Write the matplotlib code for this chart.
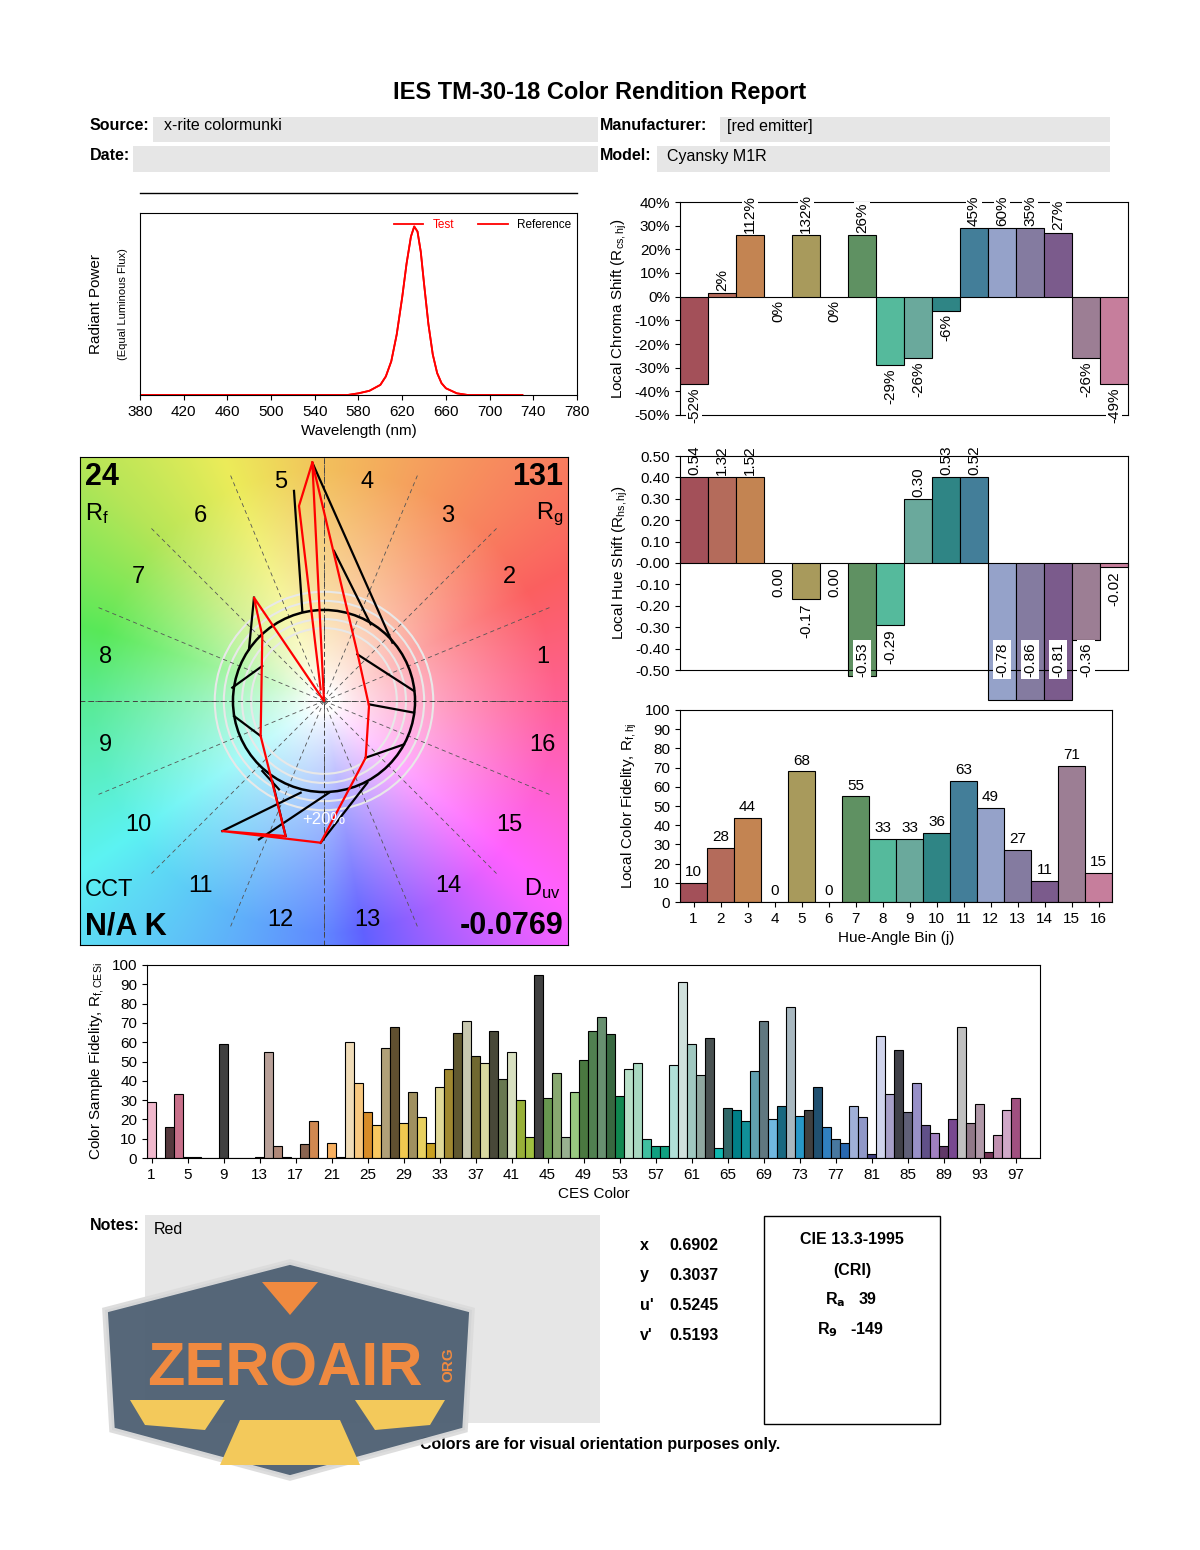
import numpy as np
import matplotlib
matplotlib.use("Agg")
import matplotlib.pyplot as plt
from matplotlib.patches import Rectangle, Circle, Polygon
from matplotlib.colors import hsv_to_rgb

plt.rcParams['font.family'] = ['Liberation Sans', 'DejaVu Sans']
plt.rcParams['mathtext.fontset'] = 'custom'
plt.rcParams['mathtext.rm'] = 'Liberation Sans'
plt.rcParams['mathtext.it'] = 'Liberation Sans'

# ---------------- data ----------------
wl = [380, 500, 570, 580, 590, 600, 605, 610, 615, 620, 624, 628, 631, 634, 637, 640, 644, 648, 652, 656, 660, 670, 680, 730]
spd = [0, 0, 0, 0.01, 0.025, 0.06, 0.11, 0.2, 0.36, 0.58, 0.78, 0.94, 1.0, 0.97, 0.85, 0.66, 0.42, 0.24, 0.13, 0.07, 0.04, 0.01, 0, 0]

bins = np.arange(1, 17)
bin_colors = ['#a35059', '#b46b5b', '#c38452', '#b8a05b', '#a89a5c', '#8a9355', '#5f9162', '#55ba9c',
              '#6aa99c', '#2f8585', '#437e99', '#95a2c9', '#847ba0', '#7b5b8c', '#9c7e94', '#c67e9c']
chroma_val = [-52, 2, 112, 0, 132, 0, 26, -29, -26, -6, 45, 60, 35, 27, -26, -49]
chroma_bar = [-37, 1.5, 26, 0, 26, 0, 26, -29, -26, -6, 29, 29, 29, 27, -26, -37]
hue_val = [0.54, 1.32, 1.52, 0.00, -0.17, 0.00, -0.53, -0.29, 0.30, 0.53, 0.52, -0.78, -0.86, -0.81, -0.36, -0.02]
hue_bar = [0.40, 0.40, 0.40, 0.00, -0.17, 0.00, -0.53, -0.29, 0.30, 0.40, 0.40, -0.64, -0.64, -0.64, -0.36, -0.02]
fid_val = [10, 28, 44, 0, 68, 0, 55, 33, 33, 36, 63, 49, 27, 11, 71, 15]

ces_val = [29, 0, 16, 33, 0.5, 0.5, 0, 0, 59, 0, 0, 0, 0.5, 55, 6, 0.5, 0, 7, 19, 0,
           8, 0.5, 60, 39, 24, 17, 57, 68, 18, 34, 21, 8, 37, 46, 65, 71, 53, 49, 66, 41,
           55, 30, 11, 95, 31, 44, 11, 34, 51, 66, 73, 64, 32, 46, 49, 10, 6, 6, 48, 91,
           59, 43, 62, 5, 26, 25, 19, 45, 71, 20, 27, 78, 22, 25, 37, 16, 10, 8, 27, 21,
           2, 63, 33, 56, 24, 39, 17, 13, 6, 20, 68, 18, 28, 3, 12, 25, 31, 0, 0]
ces_colors = ['#f0b8cc', '#d9a0b0', '#55383d', '#c8708a', '#6a4040', '#5a3a35', '#8a5a50', '#b08070', '#404040', '#a07060',
              '#c09080', '#804030', '#603020', '#b8a098', '#b08878', '#503020', '#d09070', '#8a6450', '#d08850', '#a06030',
              '#f8b060', '#704020', '#f0dcb8', '#f8c880', '#d88c28', '#f8c860', '#b0a078', '#605030', '#f0c850', '#a09060',
              '#e8d060', '#c8a020', '#e0d898', '#a08830', '#605830', '#c8c8b0', '#706830', '#d8d8a0', '#484838', '#687850',
              '#d8e0c0', '#98b038', '#a0c040', '#404040', '#689850', '#88a870', '#98b090', '#98c880', '#4a7840', '#508050',
              '#689070', '#386840', '#108850', '#b8e0c8', '#a8d8c0', '#40c0a0', '#10a080', '#10a080', '#b0e0d8', '#d0e0dc',
              '#a0c8c0', '#90a8a0', '#485050', '#10b8b0', '#306868', '#008088', '#109098', '#60a0b0', '#607880', '#70b8e0',
              '#186880', '#a8b8c0', '#2898c8', '#404040', '#205070', '#3080c0', '#4878a0', '#2868b0', '#a0b0d8', '#9098c8',
              '#404080', '#d0d4ec', '#a8a0c8', '#404048', '#606078', '#9890c8', '#605088', '#a080c0', '#603868', '#784890',
              '#c0c0c0', '#907888', '#b098a8', '#703050', '#c090b0', '#d0a8c8', '#a05080', '#c080a0', '#a06080']

# vector graphic points, read in pixel units of a 3x crop (centre 735,735)
test_px = [(700, 20), (835, 590), (870, 750), (860, 905), (725, 1160), (430, 1125), (620, 1140),
           (545, 840), (550, 540), (525, 425), (735, 735), (700, 20), (660, 150), (725, 700)]
ref_seg_px = [((645, 105), (670, 465)), ((700, 20), (940, 560)), ((765, 285), (875, 505)),
              ((835, 595), (1005, 705)), ((870, 745), (1005, 770)), ((860, 905), (975, 865)),
              ((865, 980), (725, 1160)), ((430, 1125), (665, 1010)), ((540, 1150), (750, 1010)),
              ((620, 1140), (580, 975)), ((550, 945), (600, 1000)), ((545, 840), (465, 780)),
              ((550, 630), (460, 695)), ((510, 580), (525, 425))]

W, H = 1200, 1550
fig = plt.figure(figsize=(12, 15.5), dpi=100)


def ax_px(l, t, r, b):
    return fig.add_axes([l / W, 1 - b / H, (r - l) / W, (b - t) / H])


def to_unit(p):
    return ((p[0] - 735) / 273.0, -(p[1] - 735) / 273.0)


# overlay for header/boxes
ov = fig.add_axes([0, 0, 1, 1])
ov.set_xlim(0, W)
ov.set_ylim(H, 0)
ov.axis('off')
ov.text(600, 92, 'IES TM-30-18 Color Rendition Report', ha='center', va='center', fontsize=17, fontweight='bold')
gray = '#e6e6e6'
for (x0, y0, x1, y1) in [(153, 117, 598, 142), (720, 117, 1110, 142), (133, 146, 598, 172), (657, 146, 1110, 172),
                         (145, 1215, 600, 1423)]:
    ov.add_patch(Rectangle((x0, y0), x1 - x0, y1 - y0, color=gray, lw=0))
for (x, y, s) in [(90, 126, 'Source:'), (600, 126, 'Manufacturer:'), (90, 156, 'Date:'), (600, 156, 'Model:'),
                  (90, 1225, 'Notes:')]:
    ov.text(x, y, s, fontsize=11.5, fontweight='bold', va='center')
for (x, y, s) in [(164, 126, 'x-rite colormunki'), (727, 126, '[red emitter]'), (667, 156, 'Cyansky M1R'),
                  (154, 1230, 'Red')]:
    ov.text(x, y, s, fontsize=11.5, va='center')
ov.plot([140, 577], [193, 193], color='black', lw=1)
for i, (k, v) in enumerate([('x', '0.6902'), ('y', '0.3037'), ("u'", '0.5245'), ("v'", '0.5193')]):
    ov.text(640, 1245 + 30 * i, k, fontsize=11.5, fontweight='bold', va='center')
    ov.text(669, 1245 + 30 * i, v, fontsize=11.5, fontweight='bold', va='center')
ov.add_patch(Rectangle((764, 1216), 176, 208, fill=False, ec='black', lw=1))
ov.text(852, 1240, 'CIE 13.3-1995', ha='center', va='center', fontsize=11.5, fontweight='bold')
ov.text(852, 1270, '(CRI)', ha='center', va='center', fontsize=11.5, fontweight='bold')
ov.text(825, 1300, r'R$_\mathbf{a}$   39', va='center', fontsize=11.5, fontweight='bold')
ov.text(817, 1330, r'R$_\mathbf{9}$   -149', va='center', fontsize=11.5, fontweight='bold')
ov.text(600, 1444, 'Colors are for visual orientation purposes only.', ha='center', va='center',
        fontsize=11.5, fontweight='bold')

# ---------------- spectrum ----------------
ax = ax_px(140, 213, 577, 395)
ax.plot(wl, spd, color='red', lw=1.3, label='Test')
ax.plot(wl, spd, color='red', lw=1.3, label='Reference')
ax.set_xlim(380, 780)
ax.set_ylim(0, 1.08)
ax.set_xticks(range(380, 781, 40))
ax.set_yticks([])
ax.tick_params(labelsize=11)
ax.set_xlabel('Wavelength (nm)', fontsize=11)
ax.set_ylabel('Radiant Power', fontsize=11)
ax.yaxis.set_label_coords(-0.085, 0.5)
ax.text(-0.04, 0.5, '(Equal Luminous Flux)', transform=ax.transAxes, rotation=90, fontsize=8,
        ha='center', va='center')
leg = ax.legend(loc='upper right', ncol=2, frameon=False, fontsize=8.5, handlelength=2.5, borderaxespad=0.1)
leg.get_texts()[0].set_color('red')

# ---------------- chroma shift ----------------
ax = ax_px(680, 202, 1128, 415)
ax.bar(bins, chroma_bar, width=1, color=bin_colors, edgecolor='black', lw=0.8)
ax.set_xlim(0.5, 16.5)
ax.set_ylim(-50, 40)
ax.set_yticks(range(-50, 41, 10))
ax.set_yticklabels(['%d%%' % v for v in range(-50, 41, 10)])
ax.set_xticks([])
ax.tick_params(labelsize=11)
ax.set_ylabel(r'Local Chroma Shift (R$_{cs,hj}$)', fontsize=11)
for b, v, h in zip(bins, chroma_val, chroma_bar):
    if v > 0:
        ax.text(b, h + 1, '%d%%' % v, rotation=90, ha='center', va='bottom', fontsize=11,
                bbox=dict(fc='white', ec='none', pad=0.5), clip_on=False)
    else:
        ax.text(b, h - 1.5, '%d%%' % v, rotation=90, ha='center', va='top', fontsize=11,
                bbox=dict(fc='white', ec='none', pad=0.5), clip_on=False)

# ---------------- hue shift ----------------
ax = ax_px(680, 456, 1128, 670)
ax.bar(bins, hue_bar, width=1, color=bin_colors, edgecolor='black', lw=0.8, clip_on=False)
ax.set_xlim(0.5, 16.5)
ax.set_ylim(-0.5, 0.5)
ax.set_yticks(np.arange(-0.5, 0.51, 0.1))
ax.set_yticklabels(['%.2f' % v for v in np.arange(-0.5, 0.51, 0.1)])
ax.set_xticks([])
ax.tick_params(labelsize=11)
ax.set_ylabel(r'Local Hue Shift (R$_{hs,hj}$)', fontsize=11)
for b, v, h in zip(bins, hue_val, hue_bar):
    if v > 0:
        ax.text(b, h + 0.01, '%.2f' % v, rotation=90, ha='center', va='bottom', fontsize=11, clip_on=False)
    else:
        ax.text(b, max(h, -0.35) - 0.02, '%.2f' % v, rotation=90, ha='center', va='top', fontsize=11,
                bbox=dict(fc='white', ec='none', pad=1.5), clip_on=False, zorder=5)

# ---------------- local fidelity ----------------
ax = ax_px(680, 710, 1112, 902)
ax.bar(bins, fid_val, width=1, color=bin_colors, edgecolor='black', lw=0.8)
ax.set_xlim(0.5, 16.5)
ax.set_ylim(0, 100)
ax.set_yticks(range(0, 101, 10))
ax.set_xticks(bins)
ax.tick_params(labelsize=11)
ax.set_xlabel('Hue-Angle Bin (j)', fontsize=11)
ax.set_ylabel(r'Local Color Fidelity, R$_{f,hj}$', fontsize=11)
for b, v in zip(bins, fid_val):
    ax.text(b, v + 2, '%d' % v, ha='center', va='bottom', fontsize=11)

# ---------------- CES fidelity ----------------
ces = np.arange(1, len(ces_val) + 1)
ax = ax_px(147, 965, 1040, 1158)
ax.bar(ces, ces_val, width=1, color=ces_colors, edgecolor='black', lw=0.8)
ax.set_xlim(0.5, 99.7)
ax.set_ylim(0, 100)
ax.set_yticks(range(0, 101, 10))
ax.set_xticks(range(1, 98, 4))
ax.tick_params(labelsize=11)
ax.set_xlabel('CES Color', fontsize=11)
ax.set_ylabel(r'Color Sample Fidelity, R$_{f,CESi}$', fontsize=11)

# ---------------- color vector graphic ----------------
ax = ax_px(80, 457, 568, 945)
L = 2.68
g = np.linspace(-L, L, 400)
X, Y = np.meshgrid(g, g)
ang = np.degrees(np.arctan2(Y, X)) % 360
hue = np.interp(ang, [0, 45, 90, 135, 180, 225, 270, 315, 360],
                [340, 372, 400, 440, 505, 550, 585, 655, 700]) % 360 / 360.0
r = np.hypot(X, Y)
sat = np.clip((r - 0.15) / 2.4, 0, 1) ** 0.7
val = np.interp(ang, [0, 90, 135, 180, 270, 360], [1, 0.95, 0.9, 0.92, 1, 1])
val = 1 - (1 - val) * np.clip(r / 2.5, 0, 1)
img = hsv_to_rgb(np.dstack([hue, sat * 0.62, val]))
ax.imshow(img, extent=[-L, L, -L, L], origin='lower', zorder=0)
for rr in [0.8, 0.9, 1.1, 1.2]:
    ax.add_patch(Circle((0, 0), rr, fill=False, ec='#e8e8e8', lw=1.5, zorder=1))
for k in range(16):
    a = np.radians(22.5 * k)
    ax.plot([0, L * 1.0 * np.cos(a)], [0, L * 1.0 * np.sin(a)], ls=(0, (5, 4)), color='#555555', lw=0.6, zorder=1)
ax.plot([-L, L], [0, 0], ls=(0, (5, 4)), color='#444444', lw=0.7, zorder=1)
ax.plot([0, 0], [-L, L], ls=(0, (5, 4)), color='#444444', lw=0.7, zorder=1)
ax.add_patch(Circle((0, 0), 1.0, fill=False, ec='black', lw=1.8, zorder=2))
for a, b in ref_seg_px:
    p, q = to_unit(a), to_unit(b)
    ax.plot([p[0], q[0]], [p[1], q[1]], color='black', lw=1.6, zorder=3)
tp = np.array([to_unit(p) for p in test_px])
ax.plot(tp[:, 0], tp[:, 1], color='red', lw=1.6, zorder=4)
ax.text(0, -1.3, '+20%', color='white', ha='center', va='center', fontsize=12, zorder=5)
for k in range(16):
    a = np.radians(11.25 + 22.5 * k)
    ax.text(2.45 * np.cos(a), 2.45 * np.sin(a), str(k + 1), ha='center', va='center', fontsize=17, zorder=5)
ax.text(-2.63, 2.62, '24', fontsize=22, fontweight='bold', va='top', zorder=5)
ax.text(-2.63, 2.2, r'R$_\mathregular{f}$', fontsize=17, va='top', zorder=5)
ax.text(2.63, 2.62, '131', fontsize=22, fontweight='bold', va='top', ha='right', zorder=5)
ax.text(2.63, 2.2, r'R$_\mathregular{g}$', fontsize=17, va='top', ha='right', zorder=5)
ax.text(-2.63, -2.2, 'CCT', fontsize=17, va='bottom', zorder=5)
ax.text(-2.63, -2.64, 'N/A K', fontsize=22, fontweight='bold', va='bottom', zorder=5)
ax.text(2.6, -2.2, r'D$_\mathregular{uv}$', fontsize=17, va='bottom', ha='right', zorder=5)
ax.text(2.63, -2.64, '-0.0769', fontsize=22, fontweight='bold', va='bottom', ha='right', zorder=5)
ax.set_xlim(-L, L)
ax.set_ylim(-L, L)
ax.set_xticks([])
ax.set_yticks([])

# ---------------- watermark logo ----------------
lg = fig.add_axes([0, 0, 1, 1], zorder=10)
lg.set_xlim(0, W)
lg.set_ylim(H, 0)
lg.axis('off')
hexagon = [(105, 1310), (290, 1262), (472, 1310), (465, 1430), (290, 1478), (112, 1430)]
lg.add_patch(Polygon(hexagon, closed=True, fc='#4d5f72', ec='#dcdcdc', lw=4, alpha=0.95))
lg.add_patch(Polygon([(262, 1282), (318, 1282), (290, 1315)], closed=True, fc='#f08a40'))
lg.add_patch(Polygon([(240, 1420), (340, 1420), (360, 1465), (220, 1465)], closed=True, fc='#f3c95b'))
lg.add_patch(Polygon([(130, 1400), (225, 1400), (205, 1430), (145, 1425)], closed=True, fc='#f3c95b'))
lg.add_patch(Polygon([(355, 1400), (445, 1400), (430, 1425), (375, 1430)], closed=True, fc='#f3c95b'))
lg.text(285, 1370, 'ZEROAIR', color='#f08a40', fontsize=44, fontweight='bold', ha='center', va='center')
lg.text(448, 1365, 'ORG', color='#f08a40', fontsize=11, fontweight='bold', rotation=90, ha='center', va='center')

fig.savefig('out.png', dpi=100)
